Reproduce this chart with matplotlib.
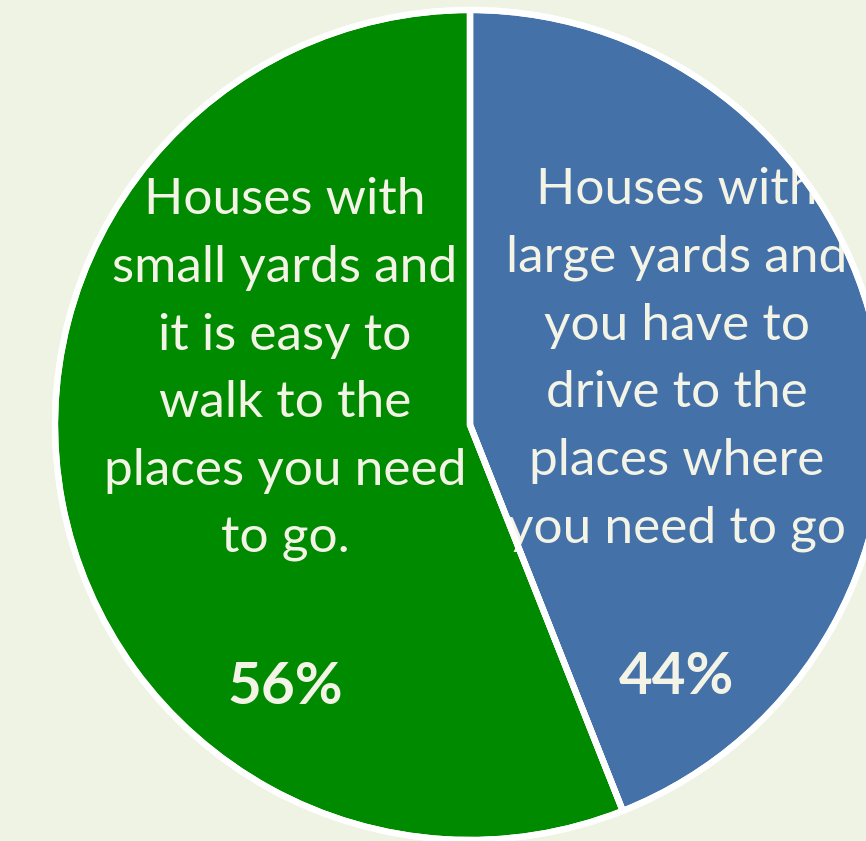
import matplotlib.pyplot as plt
from matplotlib.patches import PathPatch
from matplotlib.transforms import offset_copy

shares = [44, 56]
colors = ["#4471a8", "#008a00"]
descriptions = [
    ["Houses with", "large yards and", "you have to", "drive to the",
     "places where", "you need to go"],
    ["Houses with", "small yards and", "it is easy to", "walk to the",
     "places you need", "to go."],
]
pct_labels = ["44%", "56%"]

bg = "#eef3e3"
txt_color = "#f3f3e6"

fig = plt.figure(figsize=(8.66, 8.41), dpi=100, facecolor=bg)
ax = fig.add_axes([0, 0, 1, 1])
ax.set_facecolor(bg)

wedges, _ = ax.pie(shares, colors=colors, startangle=90, counterclock=False,
                   radius=1.0, wedgeprops=dict(edgecolor="white", linewidth=4.5))

# pie cut off on the right edge, like a cropped slide
r_px = 415.0
ax.set_xlim(-470 / r_px, (866 - 470) / r_px)
ax.set_ylim(-(841 - 425) / r_px, 425 / r_px)
ax.set_aspect("equal")
ax.axis("off")

# text blocks: (center x, first line y, percent y) in data units, line step in points
blocks = [(0.498, (425 - 190) / r_px, (425 - 678) / r_px),
          (-0.446, (425 - 200) / r_px, (425 - 688) / r_px)]
step = 48.8
for (cx, y0, ypct), lines, pct, w in zip(blocks, descriptions, pct_labels, wedges):
    for i, line in enumerate(lines):
        tr = offset_copy(ax.transData, fig=fig, x=0, y=-i * step, units="points")
        t = ax.text(cx, y0, line, transform=tr, ha="center", va="center",
                    fontsize=37, family="Lato", color=txt_color, zorder=2)
        t.set_clip_path(w)
    ax.text(cx, ypct, pct, ha="center", va="center", fontsize=42,
            family="Lato", fontweight="bold", color=txt_color, zorder=2)

# white slice borders go over the labels
for w in wedges:
    ax.add_patch(PathPatch(w.get_path(), fill=False, edgecolor="white",
                           linewidth=4.5, zorder=3))

fig.savefig("out.png", dpi=100, facecolor=bg)
